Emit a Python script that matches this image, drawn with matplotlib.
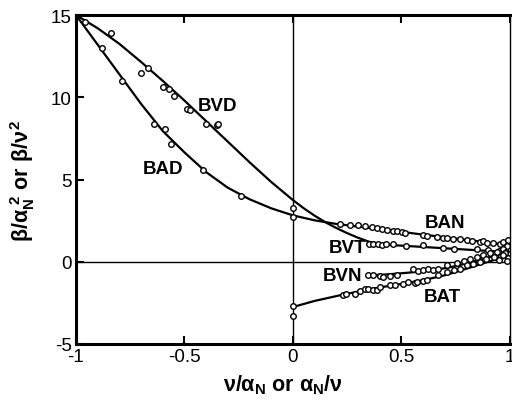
import numpy as np
import matplotlib
matplotlib.use('Agg')
import matplotlib.pyplot as plt

plt.rcParams['font.family'] = 'sans-serif'
plt.rcParams['font.sans-serif'] = ['Liberation Sans', 'DejaVu Sans']
plt.rcParams['mathtext.fontset'] = 'custom'
plt.rcParams['mathtext.rm'] = 'Liberation Sans:bold'
plt.rcParams['mathtext.it'] = 'Liberation Sans:bold'
plt.rcParams['mathtext.bf'] = 'Liberation Sans:bold'

bvd_x = [-0.96, -0.84, -0.70, -0.67, -0.60, -0.57, -0.55, -0.49, -0.475, -0.40, -0.35, -0.345, 0.0]
bvd_y = [14.6, 13.9, 11.5, 11.8, 10.6, 10.5, 10.1, 9.3, 9.2, 8.4, 8.3, 8.4, 3.25]

bad_x = [-0.88, -0.79, -0.64, -0.59, -0.56, -0.415, -0.24, 0.0]
bad_y = [13.0, 11.0, 8.35, 8.1, 7.15, 5.55, 4.0, 2.75]

ban_x = [0.217, 0.263, 0.30, 0.332, 0.363, 0.386, 0.409, 0.432, 0.462, 0.478, 0.501, 0.516,
         0.60, 0.616, 0.662, 0.693, 0.708, 0.739, 0.770, 0.80, 0.823, 0.862, 0.877, 0.893,
         0.923, 0.954, 0.97, 0.985, 0.99]
ban_y = [2.32, 2.26, 2.22, 2.18, 2.12, 2.06, 1.97, 1.95, 1.85, 1.86, 1.80, 1.76,
         1.60, 1.55, 1.52, 1.47, 1.44, 1.40, 1.38, 1.30, 1.28, 1.22, 1.25, 1.15,
         1.12, 1.05, 1.20, 0.98, 1.35]

bvt_x = [0.35, 0.37, 0.39, 0.41, 0.43, 0.46, 0.52, 0.60, 0.69, 0.74, 0.85, 0.90, 0.95, 0.97, 0.98, 0.99]
bvt_y = [1.10, 1.05, 1.05, 1.00, 1.05, 1.10, 0.95, 1.00, 0.85, 0.80, 0.75, 0.70, 0.65, 0.80, 0.60, 0.45]

bvn_x = [0.347, 0.37, 0.401, 0.416, 0.447, 0.478, 0.555, 0.578, 0.60, 0.624, 0.647, 0.67,
         0.71, 0.755, 0.786, 0.817, 0.848, 0.878, 0.909, 0.94, 0.96, 0.975, 0.99]
bvn_y = [-0.79, -0.83, -0.87, -0.93, -0.87, -0.83, -0.43, -0.59, -0.53, -0.47, -0.53, -0.43,
         -0.22, -0.10, 0.02, 0.18, 0.30, 0.39, 0.55, 0.62, 0.35, 0.55, 0.25]

bat_x = [0.0, 0.0, 0.23, 0.246, 0.284, 0.307, 0.33, 0.347, 0.37, 0.386, 0.40, 0.447, 0.47,
         0.508, 0.531, 0.562, 0.57, 0.60, 0.616, 0.67, 0.71, 0.74, 0.77, 0.80, 0.83,
         0.86, 0.89, 0.925, 0.95, 0.97, 0.985]
bat_y = [-2.7, -3.3, -2.05, -1.95, -1.95, -1.75, -1.65, -1.65, -1.69, -1.72, -1.55, -1.44, -1.40,
         -1.34, -1.24, -1.30, -1.20, -1.14, -1.10, -0.83, -0.63, -0.53, -0.43, -0.22, -0.12,
         -0.02, 0.18, 0.30, 0.10, 0.40, 0.05]

# fitted curves
vd_line_x = [-1.0, -0.9, -0.8, -0.7, -0.6, -0.5, -0.4, -0.3, -0.2, -0.1, 0.0,
             0.05, 0.1, 0.15, 0.2, 0.25, 0.3, 0.35, 0.4, 0.45, 0.5, 0.6, 0.7, 0.8, 0.9, 1.0]
vd_line_y = [15.0, 14.2, 13.25, 12.15, 11.0, 9.8, 8.55, 7.3, 6.05, 4.85, 3.75,
             3.25, 2.8, 2.4, 2.05, 1.74, 1.46, 1.22, 1.09, 1.02, 0.98, 0.9, 0.82, 0.74, 0.66, 0.58]

ad_line_x = [-1.0, -0.9, -0.8, -0.7, -0.6, -0.5, -0.4, -0.3, -0.2, -0.1, 0.0,
             0.1, 0.2, 0.3, 0.4, 0.5, 0.6, 0.7, 0.8, 0.9, 1.0]
ad_line_y = [15.0, 13.2, 11.4, 9.6, 7.95, 6.65, 5.45, 4.5, 3.8, 3.25, 2.82,
             2.52, 2.3, 2.14, 1.98, 1.82, 1.65, 1.49, 1.33, 1.17, 1.0]

vn_line_x = [0.345, 0.42, 0.5, 0.6, 0.68, 0.75, 0.8, 0.85, 0.9, 0.95, 1.0]
vn_line_y = [-0.82, -0.78, -0.7, -0.58, -0.44, -0.26, -0.1, 0.08, 0.26, 0.43, 0.58]

at_line_x = [0.0, 0.1, 0.23, 0.32, 0.4, 0.5, 0.6, 0.7, 0.8, 0.9, 1.0]
at_line_y = [-2.75, -2.38, -2.0, -1.76, -1.56, -1.35, -1.12, -0.82, -0.42, 0.0, 0.4]

labels = ['BVD', 'BAD', 'BAN', 'BVT', 'BVN', 'BAT']
label_x = [-0.35, -0.60, 0.70, 0.25, 0.23, 0.69]
label_y = [9.5, 5.7, 2.4, 0.85, -0.85, -2.1]

fig = plt.figure(figsize=(5.12, 4.02), dpi=100)
ax = fig.add_axes([0.1484, 0.1418, 0.8476, 0.8182])

ax.axvline(0, color='black', lw=1.0)
ax.axhline(0, color='black', lw=1.0)

for lx, ly in [(vd_line_x, vd_line_y), (ad_line_x, ad_line_y),
               (vn_line_x, vn_line_y), (at_line_x, at_line_y)]:
    ax.plot(lx, ly, '-', color='black', lw=1.6, solid_joinstyle='round')

mk = dict(marker='o', ms=4, mfc='white', mec='black', mew=1.0, ls='none')
for px, py in [(bvd_x, bvd_y), (bad_x, bad_y), (ban_x, ban_y), (bvt_x, bvt_y),
               (bvn_x, bvn_y), (bat_x, bat_y)]:
    ax.plot(px, py, **mk)

for t, tx, ty in zip(labels, label_x, label_y):
    ax.text(tx, ty, t, fontsize=13.5, fontweight='bold', ha='center', va='center')

ax.set_xlim(-1, 1)
ax.set_ylim(-5, 15)
ax.set_xticks([-1, -0.5, 0, 0.5, 1])
ax.set_xticklabels(['-1', '-0.5', '0', '0.5', '1'])
ax.set_yticks([-5, 0, 5, 10, 15])
ax.set_yticklabels(['-5', '0', '5', '10', '15'])
ax.tick_params(direction='in', length=6, width=1.5, labelsize=13.5, top=True, right=False, pad=3)
for s in ['left', 'bottom', 'top']:
    ax.spines[s].set_linewidth(2.2)
ax.spines['right'].set_linewidth(1.0)

ax.set_xlabel(r'$\nu/\alpha_N$ or $\alpha_N/\nu$', fontsize=15.5, fontweight='bold')
ax.xaxis.set_label_coords(0.477, -0.085)
ax.set_ylabel(r'$\beta/\alpha_N^{\ 2}$ or $\beta/\nu^2$', fontsize=15.5, fontweight='bold')
ax.yaxis.set_label_coords(-0.09, 0.5)

fig.savefig('out.png', dpi=100)
